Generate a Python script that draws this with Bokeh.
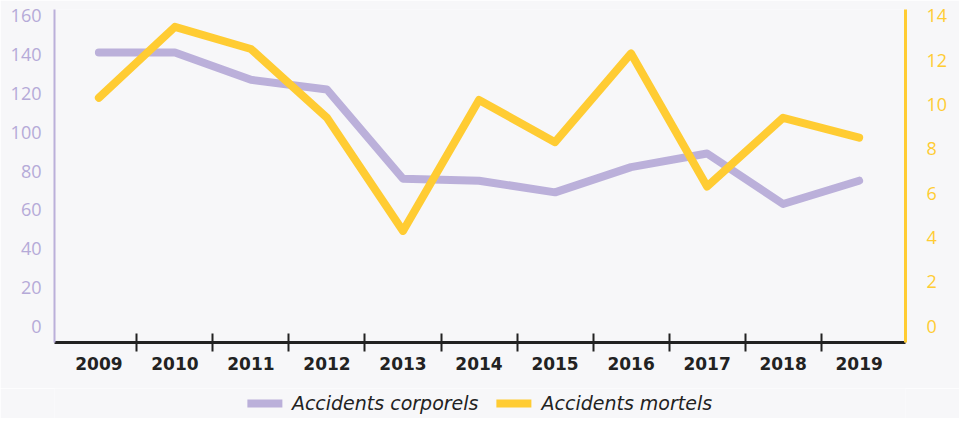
from bokeh.plotting import figure
from bokeh.layouts import column
from bokeh.models import (Range1d, LinearAxis, FixedTicker, SingleIntervalTicker,
                          Legend, LegendItem, ColumnDataSource)
from bokeh.embed import file_html
from bokeh.resources import INLINE

years = ["2009", "2010", "2011", "2012", "2013", "2014", "2015", "2016", "2017", "2018", "2019"]
accidents_corporels = [141, 141, 127, 122, 76, 75, 69, 82, 89, 63, 75]
accidents_mortels = [10.3, 13.5, 12.5, 9.4, 4.3, 10.2, 8.3, 12.3, 6.3, 9.4, 8.5]
series_names = ["Accidents corporels", "Accidents mortels"]

PURPLE = "#bbb0da"
PURPLE_TXT = "#b5aad8"
YELLOW = "#ffcc33"
BG = "#f7f7f9"
W = 959

xs = list(range(len(years)))
src = ColumnDataSource(dict(x=xs, c=accidents_corporels, m=accidents_mortels))

p = figure(width=W, height=388, output_backend="svg", toolbar_location=None,
           x_range=Range1d(-0.584, 10.61), y_range=Range1d(-8.35, 163.2),
           min_border_left=54, min_border_right=54, min_border_top=9, min_border_bottom=46,
           background_fill_color=BG, border_fill_color=BG, outline_line_color=None)
p.extra_y_ranges = {"mortels": Range1d(-8.35 * 14 / 160, 163.2 * 14 / 160)}
p.xaxis.visible = False
p.yaxis.visible = False
p.grid.visible = False

line_kw = dict(line_width=8, line_cap="round", line_join="round")
p.line("x", "c", source=src, line_color=PURPLE, **line_kw)
p.line("x", "m", source=src, line_color=YELLOW, y_range_name="mortels", **line_kw)

# bottom axis: labels at year centres, tick marks between years
xt = FixedTicker(ticks=xs, minor_ticks=[i + 0.5 for i in xs[:-1]])
xa = LinearAxis(ticker=xt)
xa.major_label_overrides = {i: y for i, y in zip(xs, years)}
xa.axis_line_color = "#222222"
xa.axis_line_width = 3
xa.major_tick_in = 0
xa.major_tick_out = 0
xa.minor_tick_in = 9
xa.minor_tick_out = 9
xa.minor_tick_line_color = "#222222"
xa.minor_tick_line_width = 2
xa.major_label_standoff = 5
xa.major_label_text_font = "DejaVu Sans"
xa.major_label_text_font_style = "bold"
xa.major_label_text_font_size = "17px"
xa.major_label_text_color = "#222222"
p.add_layout(xa, "below")

# left axis
ya = LinearAxis(ticker=SingleIntervalTicker(interval=20))
ya.axis_line_color = PURPLE
ya.axis_line_width = 2
ya.major_tick_in = 0
ya.major_tick_out = 0
ya.minor_tick_in = 0
ya.minor_tick_out = 0
ya.major_label_standoff = 13
ya.major_label_text_font = "Open Sans"
ya.major_label_text_font_size = "18px"
ya.major_label_text_color = PURPLE_TXT
p.add_layout(ya, "left")

# right axis
ra = LinearAxis(y_range_name="mortels", ticker=SingleIntervalTicker(interval=2))
ra.axis_line_color = YELLOW
ra.axis_line_width = 3
ra.major_tick_in = 0
ra.major_tick_out = 0
ra.minor_tick_in = 0
ra.minor_tick_out = 0
ra.major_label_standoff = 21
ra.major_label_text_font = "Open Sans"
ra.major_label_text_font_size = "18px"
ra.major_label_text_color = YELLOW
p.add_layout(ra, "right")

# legend strip below the chart
lg = figure(width=W, height=30, output_backend="svg", toolbar_location=None,
            x_range=Range1d(0, 1), y_range=Range1d(0, 1),
            min_border=0, background_fill_color=BG, border_fill_color=BG,
            outline_line_color=None)
lg.axis.visible = False
lg.grid.visible = False
nan = float("nan")
dummy = ColumnDataSource(dict(x=[nan], y=[nan]))
l1 = lg.line("x", "y", source=dummy, line_color=PURPLE, **line_kw)
l2 = lg.line("x", "y", source=dummy, line_color=YELLOW, **line_kw)
legend = Legend(items=[LegendItem(label=series_names[0], renderers=[l1]),
                       LegendItem(label=series_names[1], renderers=[l2])],
                location="center", orientation="horizontal",
                padding=0, margin=0, spacing=18, label_standoff=10,
                glyph_width=35, glyph_height=20, label_height=20,
                label_text_font="DejaVu Sans", label_text_font_style="italic",
                label_text_font_size="19px", label_text_color="#222222",
                background_fill_alpha=0, border_line_color=None)
lg.add_layout(legend, "center")

layout = column(p, lg, spacing=0)
open("out.html", "w").write(file_html(layout, INLINE))
